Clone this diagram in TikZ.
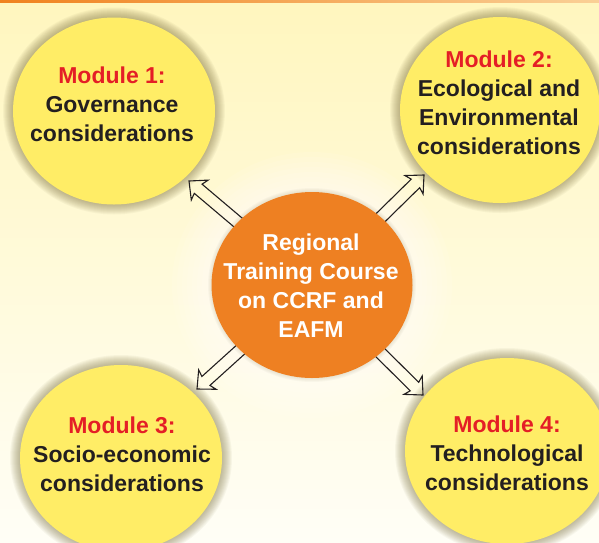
\documentclass[tikz,border=0pt]{standalone}
\usepackage{fontspec}
\setmainfont{Liberation Sans}
\usetikzlibrary{calc,shapes.geometric}
\definecolor{bgtop}{RGB}{255,246,190}
\definecolor{bgmid}{RGB}{255,250,222}
\definecolor{bgbot}{RGB}{255,254,246}
\definecolor{modyellow}{RGB}{255,237,102}
\definecolor{corange}{RGB}{238,128,34}
\definecolor{modred}{RGB}{228,30,38}
\definecolor{txtdark}{RGB}{35,31,32}
\definecolor{shadowc}{RGB}{110,100,50}
\definecolor{bartone}{RGB}{240,130,30}
\definecolor{barlight}{RGB}{250,208,150}
\pgfdeclarelayer{bg}
\pgfdeclarelayer{mid}
\pgfsetlayers{bg,mid,main}
\tikzset{
  modell/.style={ellipse, fill=modyellow, inner sep=0pt, outer sep=0pt},
  modtext/.style={align=center, text=txtdark, font=\fontsize{23}{29}\selectfont\bfseries, inner sep=0pt},
  ctext/.style={align=center, text=white, font=\fontsize{23}{29}\selectfont\bfseries, inner sep=0pt},
  arrowline/.style={draw=txtdark, line width=1.1pt, line join=miter, miter limit=6},
}
\newcommand\shadowell[4]{%
  \foreach \d in {10,9,...,1}{\fill[shadowc, opacity=0.05] (#1,#2) ellipse [x radius=#3pt+\d pt, y radius=#4pt+\d pt];}}
\newcommand\hollowarrow[2]{%
  \path ($(#2)!12pt!(#1)$) coordinate (hb) ($(#2)!14pt!(#1)$) coordinate (hbb);
  \draw[arrowline] ($(#1)!6pt!90:(#2)$) -- ($(hb)!6pt!90:(#2)$) -- ($(hbb)!13pt!90:(#2)$) -- (#2)
     -- ($(hbb)!13pt!-90:(#2)$) -- ($(hb)!6pt!-90:(#2)$) -- ($(#1)!6pt!-90:(#2)$);}
\begin{document}
\begin{tikzpicture}[x=1pt,y=-1pt]
\useasboundingbox (0,0) rectangle (599,542);
\begin{pgfonlayer}{bg}
  \shade[top color=bgtop, middle color=bgmid, bottom color=bgbot] (0,0) rectangle (599,542);
  \shade[left color=bartone, middle color=bartone, right color=barlight] (0,0) rectangle (599,2.5);
  % glow round the centre
  \foreach \d in {40,35,...,5}{\fill[white, opacity=0.09] (312,285) ellipse [x radius=100pt+\d pt, y radius=93pt+\d pt];}
  \shadowell{114}{111}{101}{93.5}
  \shadowell{500}{110}{100}{93}
  \shadowell{121}{458}{101}{93}
  \shadowell{507}{451}{102}{93}
  \node[modell, minimum width=202pt, minimum height=187pt] (m1) at (114,111) {};
  \node[modell, minimum width=200pt, minimum height=186pt] (m2) at (500,110) {};
  \node[modell, minimum width=202pt, minimum height=186pt] (m3) at (121,458) {};
  \node[modell, minimum width=204pt, minimum height=186pt] (m4) at (507,451) {};
\end{pgfonlayer}
\coordinate (c0) at (312,285);
\coordinate (t1) at (189,181);
\coordinate (t2) at (424,175);
\coordinate (t3) at (197,389);
\coordinate (t4) at (423,395);
\begin{pgfonlayer}{mid}
  \foreach \d in {4,3,2,1}{\fill[shadowc, opacity=0.035] (312,285) ellipse [x radius=100pt+\d pt, y radius=93pt+\d pt];}
  \hollowarrow{c0}{t1}
  \hollowarrow{c0}{t2}
  \hollowarrow{c0}{t3}
  \hollowarrow{c0}{t4}
\end{pgfonlayer}
\node[ellipse, fill=corange, minimum width=201pt, minimum height=186pt, inner sep=0pt] (c) at (c0) {};
\node[ctext] (cl) at (311,286) {Regional\\Training Course\\on CCRF and\\EAFM};
\node[modtext] (l1) at (112,104) {\textcolor{modred}{Module 1:}\\Governance\\considerations};
\node[modtext] (l2) at (499,103) {\textcolor{modred}{Module 2:}\\Ecological and\\Environmental\\considerations};
\node[modtext] (l3) at (122,454) {\textcolor{modred}{Module 3:}\\Socio-economic\\considerations};
\node[modtext] (l4) at (507,453) {\textcolor{modred}{Module 4:}\\Technological\\considerations};
\end{tikzpicture}
\end{document}
